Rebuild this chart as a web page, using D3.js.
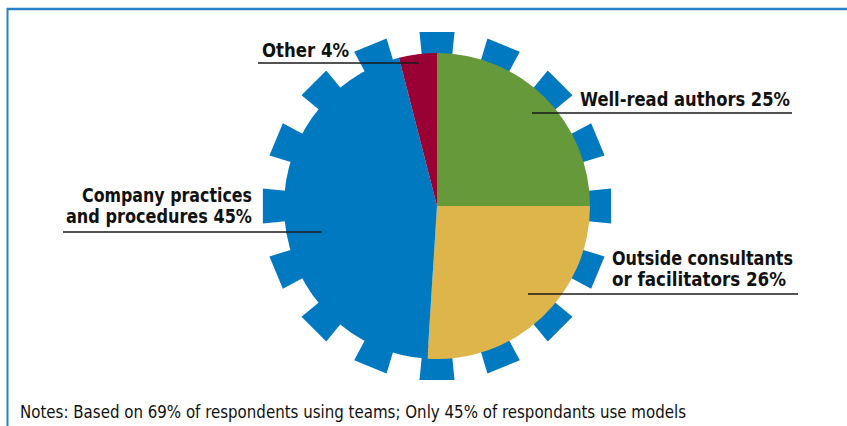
<!DOCTYPE html>
<html><head><meta charset="utf-8">
<script src="https://cdn.jsdelivr.net/npm/d3@7/dist/d3.min.js"></script>
<style>
html,body{margin:0;padding:0;background:#fff;}
svg{display:block;}
text{font-family:"Liberation Sans Narrow","DejaVu Sans Condensed","Roboto Condensed","Liberation Sans",sans-serif;fill:#111;}
</style></head>
<body>
<script>
// ---- data ----
const categories = ["Well-read authors", "Outside consultants or facilitators", "Company practices and procedures", "Other"];
const values = [25, 26, 45, 4];
const labelLines = [["Well-read authors 25%"], ["Outside consultants", "or facilitators 26%"], ["Company practices", "and procedures 45%"], ["Other 4%"]];
const note = "Notes: Based on 69% of respondents using teams; Only 45% of respondants use models";

// ---- styles / layout ----
const colors = ["#66993a", "#deb54b", "#0079c1", "#990033"];
const W = 847, H = 426;
const cx = 437, cy = 206, R = 153, toothOuter = 175, toothInner = 140;
const labelLayout = [
  {anchor: "start", x: 580, ys: [106], widths: [210], line: [532, 792, 113]},
  {anchor: "start", x: 612, ys: [265, 286], widths: [181, 174], line: [528, 798, 294]},
  {anchor: "end", x: 252, ys: [202, 223], widths: [170, 186], line: [63, 322, 232]},
  {anchor: "start", x: 262, ys: [57], widths: [87], line: [258, 419, 63]}
];

const svg = d3.select("body").append("svg").attr("width", W).attr("height", H);

// frame
svg.append("line").attr("x1", 7).attr("x2", W).attr("y1", 9).attr("y2", 9)
  .attr("stroke", "#2a82c6").attr("stroke-width", 2.5);
svg.append("line").attr("x1", 7.5).attr("x2", 7.5).attr("y1", 8).attr("y2", H)
  .attr("stroke", "#2a82c6").attr("stroke-width", 2);

const g = svg.append("g").attr("transform", `translate(${cx},${cy})`);

// gear teeth (straight-edged)
const toothN = 16, toothHalf = (11.5 / 2) * Math.PI / 180;
const pt = (r, a) => [r * Math.sin(a), -r * Math.cos(a)];
g.selectAll("path.tooth").data(d3.range(toothN)).join("path")
  .attr("class", "tooth")
  .attr("fill", "#0079c1")
  .attr("d", i => {
    const a = i * 2 * Math.PI / toothN;
    const p = [pt(toothInner, a - toothHalf), pt(toothOuter, a - toothHalf),
               pt(toothOuter, a + toothHalf), pt(toothInner, a + toothHalf)];
    return d3.line()(p) + "Z";
  });

// pie
const pie = d3.pie().sort(null).value(d => d);
const arc = d3.arc().innerRadius(0).outerRadius(R);
g.selectAll("path.slice").data(pie(values)).join("path")
  .attr("class", "slice")
  .attr("fill", (d, i) => colors[i])
  .attr("d", arc);

// labels
labelLayout.forEach((L, i) => {
  svg.append("line").attr("x1", L.line[0]).attr("x2", L.line[1])
    .attr("y1", L.line[2]).attr("y2", L.line[2])
    .attr("stroke", "#1a1a1a").attr("stroke-width", 1.5);
  labelLines[i].forEach((t, j) => {
    svg.append("text").attr("x", L.x).attr("y", L.ys[j])
      .attr("text-anchor", L.anchor)
      .attr("font-size", 19).attr("font-weight", "bold")
      .attr("textLength", L.widths[j]).attr("lengthAdjust", "spacingAndGlyphs")
      .text(t);
  });
});

// note
svg.append("text").attr("x", 20).attr("y", 418)
  .attr("font-size", 18)
  .attr("textLength", 666).attr("lengthAdjust", "spacingAndGlyphs")
  .text(note);
</script>
</body></html>
